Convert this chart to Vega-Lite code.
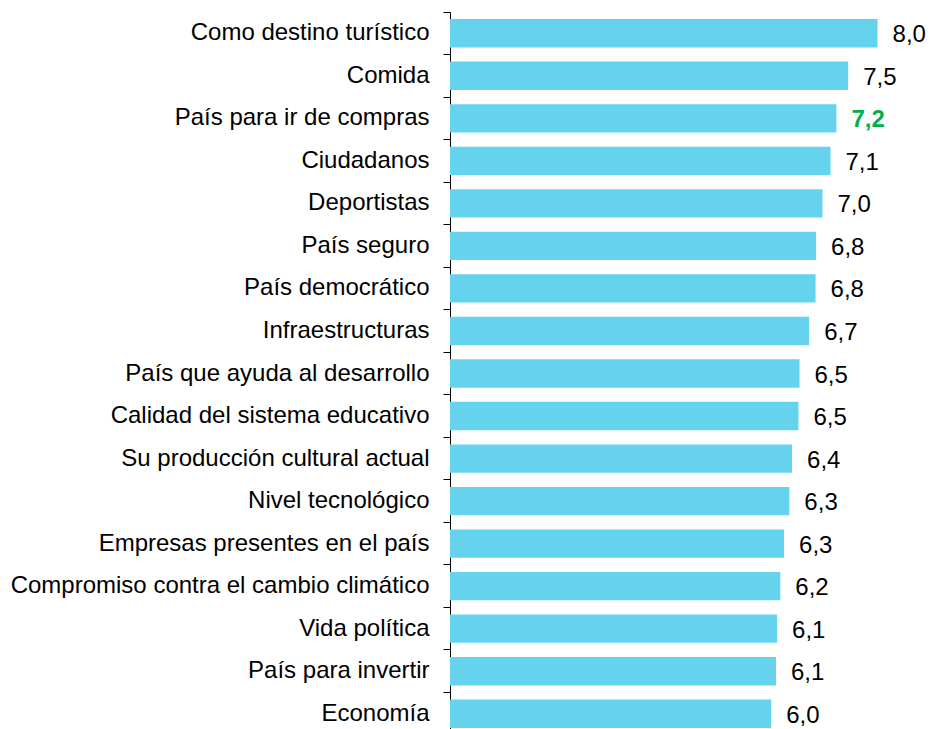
{
  "$schema": "https://vega.github.io/schema/vega-lite/v6.json",
  "width": 481,
  "height": 723,
  "autosize": "none",
  "padding": {"left": 450, "top": 12, "right": 0, "bottom": 0},
  "background": "white",
  "config": {"view": {"stroke": null}, "font": "Liberation Sans"},
  "data": {
    "values": [
      {"item": "Como destino turístico", "value": 8.0, "label": "8,0", "hl": false},
      {"item": "Comida", "value": 7.45, "label": "7,5", "hl": false},
      {"item": "País para ir de compras", "value": 7.23, "label": "7,2", "hl": true},
      {"item": "Ciudadanos", "value": 7.12, "label": "7,1", "hl": false},
      {"item": "Deportistas", "value": 6.97, "label": "7,0", "hl": false},
      {"item": "País seguro", "value": 6.85, "label": "6,8", "hl": false},
      {"item": "País democrático", "value": 6.84, "label": "6,8", "hl": false},
      {"item": "Infraestructuras", "value": 6.72, "label": "6,7", "hl": false},
      {"item": "País que ayuda al desarrollo", "value": 6.54, "label": "6,5", "hl": false},
      {"item": "Calidad del sistema educativo", "value": 6.52, "label": "6,5", "hl": false},
      {"item": "Su producción cultural actual", "value": 6.40, "label": "6,4", "hl": false},
      {"item": "Nivel tecnológico", "value": 6.35, "label": "6,3", "hl": false},
      {"item": "Empresas presentes en el país", "value": 6.25, "label": "6,3", "hl": false},
      {"item": "Compromiso contra el cambio climático", "value": 6.18, "label": "6,2", "hl": false},
      {"item": "Vida política", "value": 6.12, "label": "6,1", "hl": false},
      {"item": "País para invertir", "value": 6.10, "label": "6,1", "hl": false},
      {"item": "Economía", "value": 6.01, "label": "6,0", "hl": false}
    ]
  },
  "encoding": {
    "y": {
      "field": "item",
      "type": "nominal",
      "sort": null,
      "scale": {"paddingInner": 0, "paddingOuter": 0},
      "axis": {
        "title": null,
        "bandPosition": 0,
        "domainColor": "black",
        "tickColor": "black",
        "tickSize": 7,
        "labelPadding": 14,
        "labelFontSize": 24,
        "labelColor": "black",
        "labelFont": "Liberation Sans",
        "labelLimit": 500
      }
    },
    "x": {
      "field": "value",
      "type": "quantitative",
      "scale": {"domain": [0, 9]},
      "axis": null
    }
  },
  "layer": [
    {
      "mark": {"type": "bar", "height": {"band": 0.667}, "color": "#66D3EE"}
    },
    {
      "transform": [{"filter": "!datum.hl"}],
      "mark": {"type": "text", "align": "left", "baseline": "middle", "dx": 15, "dy": 2, "fontSize": 24, "font": "Liberation Sans", "color": "black"},
      "encoding": {"text": {"field": "label"}}
    },
    {
      "transform": [{"filter": "datum.hl"}],
      "mark": {"type": "text", "align": "left", "baseline": "middle", "dx": 15, "dy": 2, "fontSize": 24, "font": "Liberation Sans", "fontWeight": "bold", "color": "#00B050"},
      "encoding": {"text": {"field": "label"}}
    }
  ]
}
